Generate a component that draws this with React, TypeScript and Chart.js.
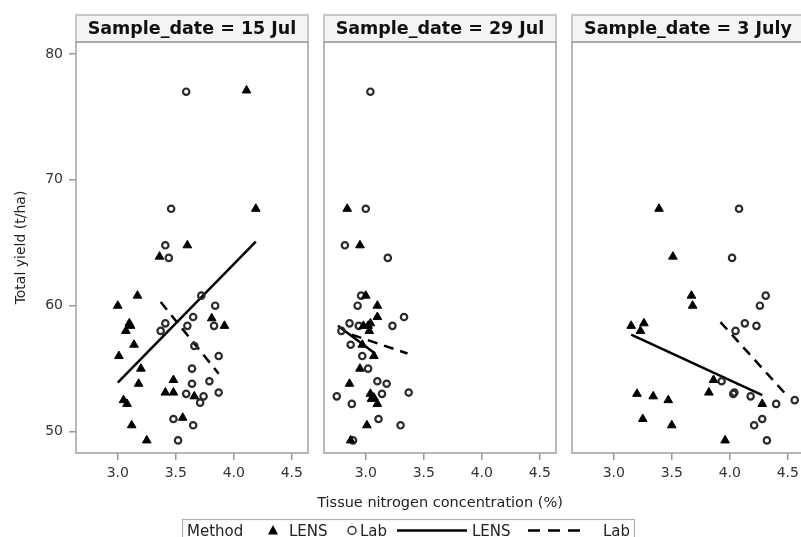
import React, { useEffect, useRef } from "react";
import { Chart, registerables } from "chart.js";

Chart.register(...registerables);

// ---------- data ----------
const panelTitles = ["Sample_date = 15 Jul", "Sample_date = 29 Jul", "Sample_date = 3 July"];
const xTickValues = [3.0, 3.5, 4.0, 4.5];
const yTickValues = [50, 60, 70, 80];
const xAxisTitle = "Tissue nitrogen concentration (%)";
const yAxisTitle = "Total yield (t/ha)";
const legendTitle = "Method";
const methodNames = ["LENS", "Lab"];

// 15 Jul
const jul15LensN = [4.11, 4.19, 3.6, 3.36, 3.17, 3.0, 3.1, 3.07, 3.11, 3.14, 3.01, 3.2, 3.18, 3.48, 3.41, 3.48, 3.05, 3.08, 3.66, 3.56, 3.12, 3.25, 3.81, 3.92];
const jul15LensYield = [77.1, 67.7, 64.8, 63.9, 60.8, 60.0, 58.6, 58.0, 58.4, 56.9, 56.0, 55.0, 53.8, 54.1, 53.1, 53.1, 52.5, 52.2, 52.8, 51.1, 50.5, 49.3, 59.0, 58.4];
const jul15LabN = [3.59, 3.46, 3.41, 3.44, 3.72, 3.84, 3.65, 3.41, 3.37, 3.6, 3.83, 3.66, 3.87, 3.64, 3.64, 3.79, 3.59, 3.87, 3.74, 3.71, 3.48, 3.65, 3.52];
const jul15LabYield = [77.0, 67.7, 64.8, 63.8, 60.8, 60.0, 59.1, 58.6, 58.0, 58.4, 58.4, 56.8, 56.0, 55.0, 53.8, 54.0, 53.0, 53.1, 52.8, 52.3, 51.0, 50.5, 49.3];
const jul15LensFitN = [3.0, 4.19];
const jul15LensFitYield = [53.9, 65.1];
const jul15LabFitN = [3.37, 3.87];
const jul15LabFitYield = [60.3, 54.6];

// 29 Jul
const jul29LensN = [2.84, 2.95, 3.0, 3.1, 3.1, 3.04, 3.02, 2.98, 3.03, 2.97, 3.07, 2.95, 2.86, 3.04, 3.05, 3.07, 3.1, 3.01, 2.87];
const jul29LensYield = [67.7, 64.8, 60.8, 60.0, 59.1, 58.6, 58.4, 58.4, 58.0, 56.9, 56.0, 55.0, 53.8, 53.0, 52.6, 52.7, 52.2, 50.5, 49.3];
const jul29LabN = [3.04, 3.0, 2.82, 3.19, 2.96, 2.93, 3.33, 2.86, 2.94, 3.23, 2.79, 2.87, 2.97, 3.02, 3.1, 3.18, 3.14, 3.37, 2.75, 2.88, 3.11, 3.3, 2.89];
const jul29LabYield = [77.0, 67.7, 64.8, 63.8, 60.8, 60.0, 59.1, 58.6, 58.4, 58.4, 58.0, 56.9, 56.0, 55.0, 54.0, 53.8, 53.0, 53.1, 52.8, 52.2, 51.0, 50.5, 49.3];
const jul29LensFitN = [2.76, 3.08];
const jul29LensFitYield = [58.4, 56.2];
const jul29LabFitN = [2.88, 3.36];
const jul29LabFitYield = [57.7, 56.2];

// 3 July
const jul3LensN = [3.39, 3.51, 3.67, 3.68, 3.15, 3.26, 3.23, 3.86, 3.82, 3.2, 3.34, 3.47, 3.25, 3.5, 4.28, 3.96];
const jul3LensYield = [67.7, 63.9, 60.8, 60.0, 58.4, 58.6, 58.0, 54.1, 53.1, 53.0, 52.8, 52.5, 51.0, 50.5, 52.2, 49.3];
const jul3LabN = [4.08, 4.02, 4.31, 4.26, 4.13, 4.23, 4.05, 3.93, 4.03, 4.04, 4.18, 4.4, 4.56, 4.28, 4.21, 4.32];
const jul3LabYield = [67.7, 63.8, 60.8, 60.0, 58.6, 58.4, 58.0, 54.0, 53.0, 53.1, 52.8, 52.2, 52.5, 51.0, 50.5, 49.3];
const jul3LensFitN = [3.15, 4.28];
const jul3LensFitYield = [57.7, 52.9];
const jul3LabFitN = [3.92, 4.47];
const jul3LabFitYield = [58.7, 53.1];

const X_MIN = 2.64;
const X_MAX = 4.64;
const Y_MIN = 48.3;
const Y_MAX = 80.95;

const panels = [
  { lensN: jul15LensN, lensY: jul15LensYield, labN: jul15LabN, labY: jul15LabYield, lfN: jul15LensFitN, lfY: jul15LensFitYield, bfN: jul15LabFitN, bfY: jul15LabFitYield },
  { lensN: jul29LensN, lensY: jul29LensYield, labN: jul29LabN, labY: jul29LabYield, lfN: jul29LensFitN, lfY: jul29LensFitYield, bfN: jul29LabFitN, bfY: jul29LabFitYield },
  { lensN: jul3LensN, lensY: jul3LensYield, labN: jul3LabN, labY: jul3LabYield, lfN: jul3LensFitN, lfY: jul3LensFitYield, bfN: jul3LabFitN, bfY: jul3LabFitYield },
];

// ---------- layout ----------
const CANVAS_W = 812;
const CANVAS_H = 537;
const paddings = [
  { left: 0, right: 504 },
  { left: 324, right: 256 },
  { left: 572, right: 8 },
];
const TOP = 42;
const BOTTOM_PAD = 44;
const FONT = '"DejaVu Sans", sans-serif';

const pts = (xs: number[], ys: number[]) => xs.map((x, k) => ({ x, y: ys[k] }));

function makePanelPlugin(title: string) {
  return {
    id: "panelDeco",
    beforeDatasetsDraw(chart: any) {
      const { ctx, chartArea: a } = chart;
      ctx.save();
      const hTop = 15;
      ctx.fillStyle = "#f4f4f4";
      ctx.fillRect(a.left, hTop, a.right - a.left, a.top - hTop);
      ctx.strokeStyle = "#b8b8b8";
      ctx.lineWidth = 1.5;
      ctx.strokeRect(a.left, hTop, a.right - a.left, a.top - hTop);
      ctx.fillStyle = "#111";
      ctx.font = 'bold 17.5px "DejaVu Sans", sans-serif';
      ctx.textAlign = "center";
      ctx.textBaseline = "alphabetic";
      ctx.fillText(title, (a.left + a.right) / 2, 34);
      ctx.strokeStyle = "#a0a0a0";
      ctx.lineWidth = 1.5;
      ctx.strokeRect(a.left, a.top, a.right - a.left, a.bottom - a.top);
      ctx.restore();
    },
  };
}

const annotationsPlugin = {
  id: "pageText",
  afterDraw(chart: any) {
    const { ctx, chartArea: a } = chart;
    ctx.save();
    // y axis title
    ctx.fillStyle = "#222";
    ctx.font = `14px ${FONT}`;
    ctx.textAlign = "center";
    ctx.textBaseline = "middle";
    ctx.translate(21, (a.top + a.bottom) / 2);
    ctx.rotate(-Math.PI / 2);
    ctx.fillText(yAxisTitle, 0, 0);
    ctx.setTransform(1, 0, 0, 1, 0, 0);
    // x axis title
    ctx.font = `14.5px ${FONT}`;
    ctx.textBaseline = "alphabetic";
    ctx.fillText(xAxisTitle, 440, 507);
    // legend
    ctx.fillStyle = "#fff";
    ctx.fillRect(182.5, 519.5, 452, 30);
    ctx.strokeStyle = "#b0b0b0";
    ctx.lineWidth = 1.2;
    ctx.strokeRect(182.5, 519.5, 452, 30);
    ctx.fillStyle = "#222";
    ctx.font = `15px ${FONT}`;
    ctx.textAlign = "left";
    const by = 536;
    const cy = 530.5;
    ctx.fillText(legendTitle, 187, by);
    // triangle
    ctx.fillStyle = "#000";
    ctx.beginPath();
    ctx.moveTo(273, cy - 5.5);
    ctx.lineTo(278, cy + 4);
    ctx.lineTo(268, cy + 4);
    ctx.closePath();
    ctx.fill();
    ctx.fillStyle = "#222";
    ctx.fillText(methodNames[0], 289, by);
    // circle
    ctx.strokeStyle = "#333";
    ctx.lineWidth = 1.5;
    ctx.beginPath();
    ctx.arc(352, cy, 4, 0, Math.PI * 2);
    ctx.stroke();
    ctx.fillText(methodNames[1], 360, by);
    // solid line
    ctx.strokeStyle = "#000";
    ctx.lineWidth = 2.5;
    ctx.beginPath();
    ctx.moveTo(397, cy);
    ctx.lineTo(467, cy);
    ctx.stroke();
    ctx.fillText(methodNames[0], 472, by);
    // dashed line
    ctx.setLineDash([12, 8]);
    ctx.beginPath();
    ctx.moveTo(528, cy);
    ctx.lineTo(584, cy);
    ctx.stroke();
    ctx.setLineDash([]);
    ctx.fillText(methodNames[1], 603, by);
    ctx.restore();
  },
};

function makeConfig(i: number): any {
  const p = panels[i];
  const plugins: any[] = [makePanelPlugin(panelTitles[i])];
  if (i === 0) plugins.push(annotationsPlugin);
  return {
    type: "scatter",
    data: {
      datasets: [
        {
          label: "LENS",
          data: pts(p.lensN, p.lensY),
          pointStyle: "triangle",
          pointRadius: 5,
          backgroundColor: "#000",
          borderColor: "#000",
          borderWidth: 1,
        },
        {
          label: "Lab",
          data: pts(p.labN, p.labY),
          pointStyle: "circle",
          pointRadius: 3.2,
          backgroundColor: "rgba(0,0,0,0)",
          borderColor: "#2b2b2b",
          borderWidth: 2.2,
        },
        {
          label: "LENS fit",
          data: pts(p.lfN, p.lfY),
          showLine: true,
          borderColor: "#000",
          borderWidth: 2.5,
          pointRadius: 0,
          fill: false,
        },
        {
          label: "Lab fit",
          data: pts(p.bfN, p.bfY),
          showLine: true,
          borderColor: "#000",
          borderWidth: 2.5,
          borderDash: [10, 7],
          pointRadius: 0,
          fill: false,
        },
      ],
    },
    options: {
      responsive: false,
      animation: false,
      devicePixelRatio: 1,
      layout: { padding: { left: paddings[i].left, right: paddings[i].right, top: TOP, bottom: BOTTOM_PAD } },
      plugins: { legend: { display: false }, tooltip: { enabled: false }, title: { display: false } },
      events: [],
      scales: {
        x: {
          type: "linear",
          min: X_MIN,
          max: X_MAX,
          afterBuildTicks: (s: any) => {
            s.ticks = xTickValues.map((v) => ({ value: v }));
          },
          afterFit: (s: any) => {
            s.height = 40;
          },
          grid: { display: true, drawOnChartArea: false, drawTicks: true, tickLength: 7, tickColor: "#999", lineWidth: 1.5 },
          border: { display: false },
          ticks: {
            color: "#333",
            font: { family: FONT, size: 14 },
            padding: 5,
            maxRotation: 0,
            autoSkip: false,
            callback: (v: any) => Number(v).toFixed(1),
          },
        },
        y: {
          type: "linear",
          display: i === 0,
          min: Y_MIN,
          max: Y_MAX,
          afterBuildTicks: (s: any) => {
            s.ticks = yTickValues.map((v) => ({ value: v }));
          },
          afterFit: (s: any) => {
            s.width = i === 0 ? 76 : 0;
          },
          grid: { display: true, drawOnChartArea: false, drawTicks: true, tickLength: 7, tickColor: "#999", lineWidth: 1.5 },
          border: { display: false },
          ticks: {
            color: "#333",
            font: { family: FONT, size: 14 },
            padding: 6,
            autoSkip: false,
            callback: (v: any) => String(v),
          },
        },
      },
    },
    plugins,
  };
}

export default function App() {
  const refs = [useRef<HTMLCanvasElement>(null), useRef<HTMLCanvasElement>(null), useRef<HTMLCanvasElement>(null)];
  useEffect(() => {
    Chart.defaults.font.family = FONT;
    const charts = refs.map((r, i) => new Chart(r.current as HTMLCanvasElement, makeConfig(i)));
    return () => charts.forEach((c) => c.destroy());
  }, []);
  return (
    <div
      style={{
        position: "fixed",
        left: 0,
        top: 0,
        width: 801,
        height: 537,
        overflow: "hidden",
        background: "#fff",
      }}
    >
      {refs.map((r, i) => (
        <canvas
          key={i}
          ref={r}
          width={CANVAS_W}
          height={CANVAS_H}
          style={{ position: "absolute", left: 0, top: 0, width: CANVAS_W, height: CANVAS_H }}
        />
      ))}
    </div>
  );
}
